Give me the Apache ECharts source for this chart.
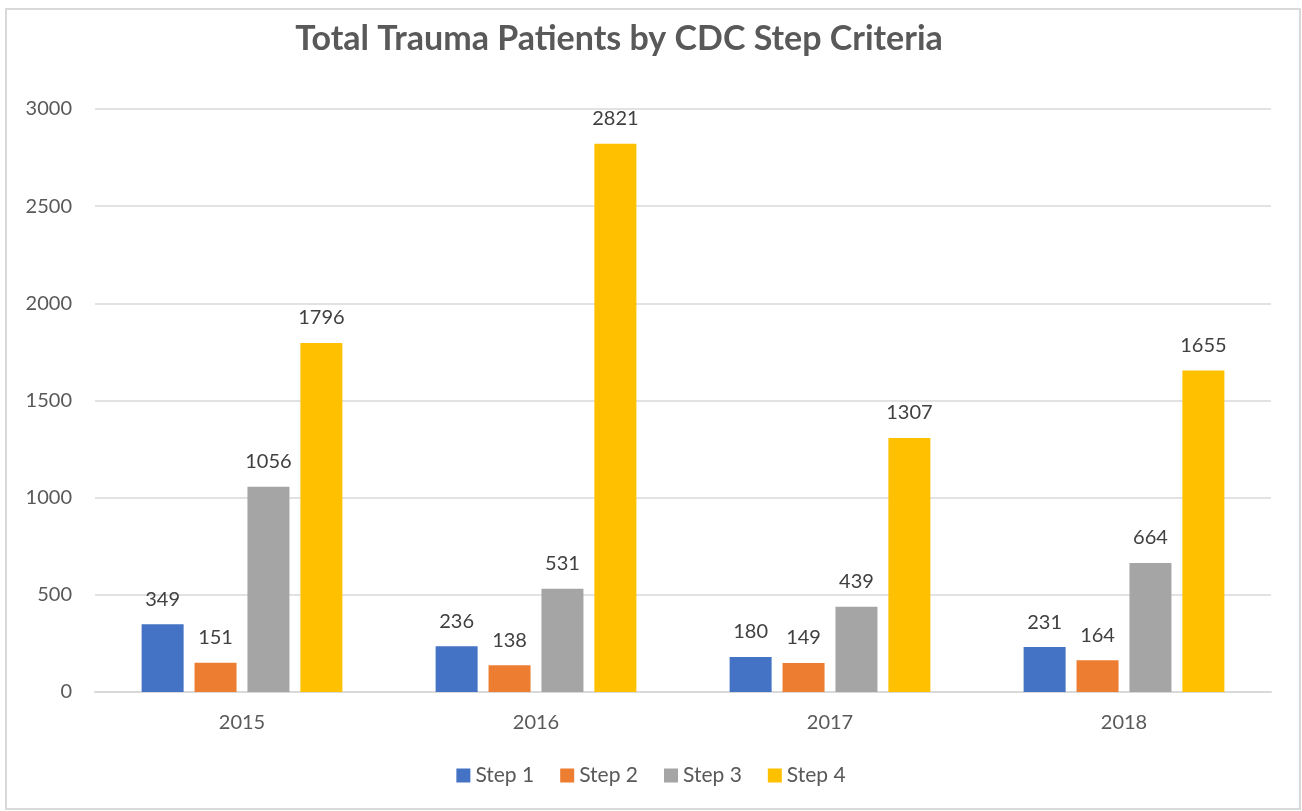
<!DOCTYPE html>
<html style="height: 100%">
<head>
<meta charset="utf-8">
</head>
<body style="height: 100%; margin: 0; background: #fff">
<div id="container" style="height: 100%"></div>
<script type="text/javascript" src="https://cdn.jsdelivr.net/npm/echarts@6/dist/echarts.min.js"></script>
<script type="text/javascript">
var years = ['2015', '2016', '2017', '2018'];
var step1 = [349, 236, 180, 231];
var step2 = [151, 138, 149, 164];
var step3 = [1056, 531, 439, 664];
var step4 = [1796, 2821, 1307, 1655];
var seriesNames = ['Step 1', 'Step 2', 'Step 3', 'Step 4'];
var colors = ['#4472C4', '#ED7D31', '#A5A5A5', '#FFC000'];
var yTicks = [0, 500, 1000, 1500, 2000, 2500, 3000];

var font = 'Lato, "Open Sans", sans-serif';

function makeSeries(name, data, color) {
    return {
        name: name,
        type: 'bar',
        data: data,
        barWidth: 42,
        barGap: '26%',
        itemStyle: { color: color },
        label: {
            show: true,
            position: 'top',
            distance: 15,
            fontFamily: font,
            fontSize: 20,
            color: '#404040'
        }
    };
}

var myChart = echarts.init(document.getElementById('container'));
var option = {
    backgroundColor: '#fff',
    animation: false,
    color: colors,
    title: {
        text: 'Total Trauma Patients by CDC Step Criteria',
        left: 614,
        top: 17,
        textAlign: 'center',
        textStyle: {
            fontFamily: font,
            fontSize: 34,
            fontWeight: 'bold',
            color: '#595959'
        }
    },
    graphic: [{
        type: 'rect',
        shape: { x: 6, y: 9, width: 1294, height: 800 },
        style: { fill: 'none', stroke: '#D9D9D9', lineWidth: 2 },
        silent: true
    }],
    legend: {
        bottom: 20,
        left: 'center',
        itemWidth: 14,
        itemHeight: 14,
        itemGap: 26,
        icon: 'rect',
        data: seriesNames,
        textStyle: { fontFamily: font, fontSize: 21, color: '#595959' }
    },
    grid: { left: 95, right: 31, top: 109, bottom: 119 },
    xAxis: {
        type: 'category',
        data: years,
        axisTick: { show: false },
        axisLine: { lineStyle: { color: '#D9D9D9', width: 2 } },
        axisLabel: { margin: 21, fontFamily: font, fontSize: 20, color: '#595959' }
    },
    yAxis: {
        type: 'value',
        min: yTicks[0],
        max: yTicks[yTicks.length - 1],
        interval: 500,
        axisLine: { show: false },
        axisTick: { show: false },
        axisLabel: {
            margin: 23,
            fontFamily: font,
            fontSize: 20,
            color: '#595959',
            formatter: function (v) { return String(v); }
        },
        splitLine: { lineStyle: { color: '#D9D9D9', width: 1.5 } }
    },
    series: [
        makeSeries(seriesNames[0], step1, colors[0]),
        makeSeries(seriesNames[1], step2, colors[1]),
        makeSeries(seriesNames[2], step3, colors[2]),
        makeSeries(seriesNames[3], step4, colors[3])
    ]
};
myChart.setOption(option);
window.onresize = function () {
    myChart.resize();
};
</script>
</body>
</html>
